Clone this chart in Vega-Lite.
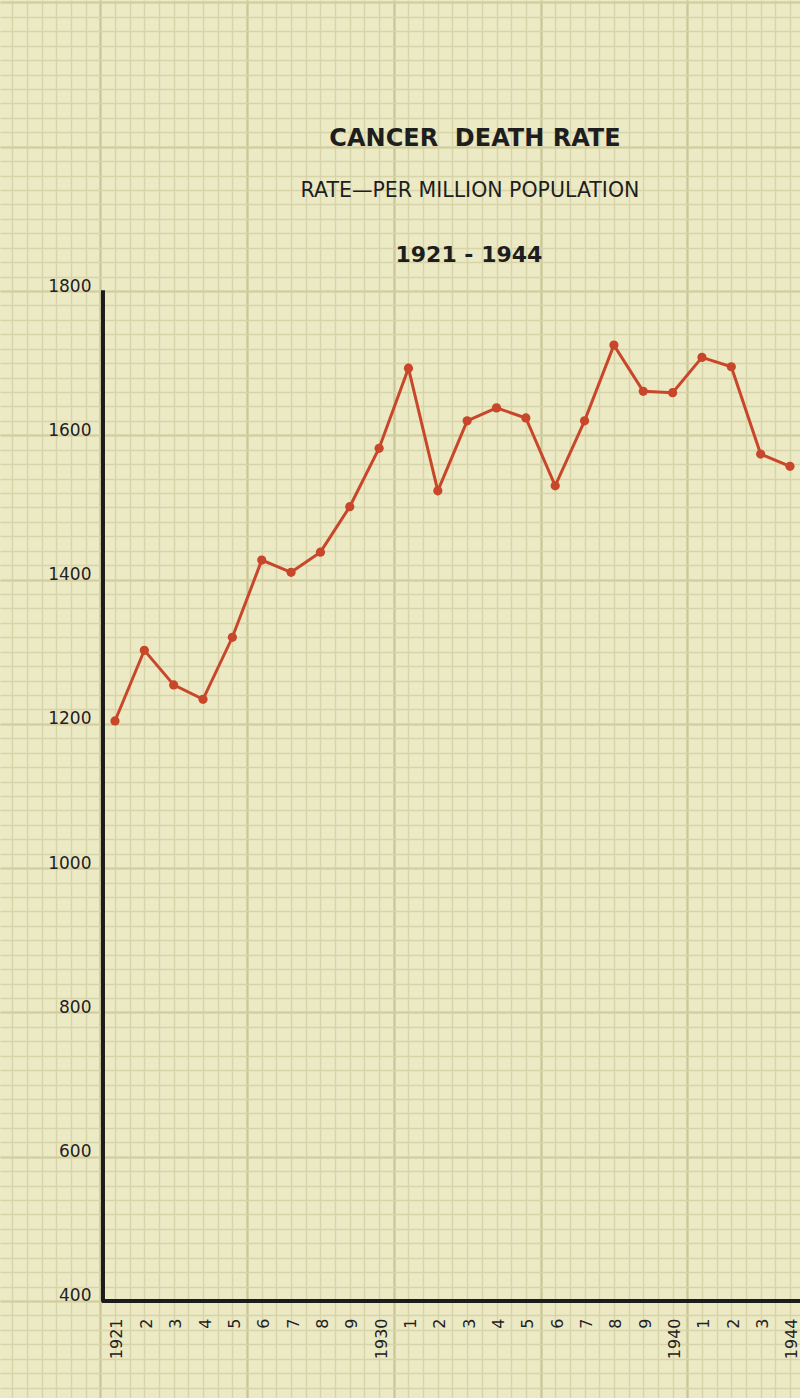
{
  "$schema": "https://vega.github.io/schema/vega-lite/v6.json",
  "width": 800,
  "height": 1398,
  "autosize": {"type": "none"},
  "padding": 0,
  "background": "#ece9c5",
  "config": {"view": {"stroke": null}, "axis": {"minExtent": 0}},
  "datasets": {
    "rates": [
      {"year": 1921, "rate": 1204},
      {"year": 1922, "rate": 1302},
      {"year": 1923, "rate": 1254},
      {"year": 1924, "rate": 1234},
      {"year": 1925, "rate": 1320},
      {"year": 1926, "rate": 1427},
      {"year": 1927, "rate": 1410},
      {"year": 1928, "rate": 1438},
      {"year": 1929, "rate": 1501},
      {"year": 1930, "rate": 1582},
      {"year": 1931, "rate": 1693},
      {"year": 1932, "rate": 1523},
      {"year": 1933, "rate": 1620},
      {"year": 1934, "rate": 1638},
      {"year": 1935, "rate": 1624},
      {"year": 1936, "rate": 1530},
      {"year": 1937, "rate": 1620},
      {"year": 1938, "rate": 1725},
      {"year": 1939, "rate": 1661},
      {"year": 1940, "rate": 1659},
      {"year": 1941, "rate": 1708},
      {"year": 1942, "rate": 1695},
      {"year": 1943, "rate": 1574},
      {"year": 1944, "rate": 1557}
    ]
  },
  "resolve": {"axis": {"x": "independent", "y": "independent"}},
  "layer": [
    {
      "data": {"name": "rates"},
      "mark": {"type": "point", "opacity": 0},
      "encoding": {
        "x": {"field": "year", "type": "quantitative",
              "scale": {"domain": [1917.082, 1944.341], "nice": false, "zero": false},
              "axis": {"orient": "bottom", "grid": true, "tickCount": 55, "labels": false, "ticks": false, "domain": false, "title": null, "gridColor": "#d8d4a9", "gridWidth": 1.4, "gridOpacity": 1}},
        "y": {"field": "rate", "type": "quantitative",
              "scale": {"domain": [265.5, 2203.4], "nice": false, "zero": false},
              "axis": {"orient": "left", "grid": true, "tickCount": 100, "labels": false, "ticks": false, "domain": false, "title": null, "gridColor": "#d8d4a9", "gridWidth": 1.4, "gridOpacity": 1}}
      }
    },
    {
      "data": {"name": "rates"},
      "mark": {"type": "point", "opacity": 0},
      "encoding": {
        "x": {"field": "year", "type": "quantitative",
              "axis": {"orient": "bottom", "grid": true, "values": [1920.5, 1925.5, 1930.5, 1935.5, 1940.5], "labels": false, "ticks": false, "domain": false, "title": null, "gridColor": "#cac697", "gridWidth": 2.2, "gridOpacity": 1}},
        "y": {"field": "rate", "type": "quantitative",
              "axis": {"orient": "left", "grid": true, "tickCount": 10, "labels": false, "ticks": false, "domain": false, "title": null, "gridColor": "#d1cd9f", "gridWidth": 1.8, "gridOpacity": 1}}
      }
    },
    {
      "data": {"name": "rates"},
      "mark": {"type": "line", "color": "#c8472b", "strokeWidth": 3},
      "encoding": {
        "x": {"field": "year", "type": "quantitative",
              "axis": {"orient": "bottom", "offset": -97, "grid": false, "values": [1921,1922,1923,1924,1925,1926,1927,1928,1929,1930,1931,1932,1933,1934,1935,1936,1937,1938,1939,1940,1941,1942,1943,1944],
                       "labelExpr": "indexof([1921,1930,1940,1944], datum.value) >= 0 ? toString(datum.value) : toString(datum.value % 10)",
                       "labelAngle": 270, "labelPadding": 17, "labelOffset": 2, "labelFont": "DejaVu Sans", "labelFontSize": 16, "labelColor": "#222222", "labelBound": false, "ticks": false, "domain": false, "title": null}},
        "y": {"field": "rate", "type": "quantitative",
              "axis": {"orient": "left", "offset": -103, "grid": false, "values": [400, 600, 800, 1000, 1200, 1400, 1600, 1800], "format": "d",
                       "labelAlign": "right", "labelBaseline": "alphabetic", "labelPadding": 12, "labelFont": "DejaVu Sans", "labelFontSize": 17, "labelColor": "#222222", "ticks": false, "domain": false, "title": null}}
      }
    },
    {
      "data": {"name": "rates"},
      "mark": {"type": "point", "filled": true, "color": "#c8472b", "size": 85, "opacity": 1},
      "encoding": {
        "x": {"field": "year", "type": "quantitative", "axis": null},
        "y": {"field": "rate", "type": "quantitative", "axis": null}
      }
    },
    {
      "data": {"values": [{"k": 1}]},
      "mark": {"type": "rule", "color": "#1c1c1c", "strokeWidth": 4},
      "encoding": {
        "x": {"datum": 1920.591, "type": "quantitative", "axis": null},
        "y": {"datum": 399, "type": "quantitative", "axis": null},
        "y2": {"datum": 1801}
      }
    },
    {
      "data": {"values": [{"k": 1}]},
      "mark": {"type": "rule", "color": "#1c1c1c", "strokeWidth": 4},
      "encoding": {
        "x": {"datum": 1920.55, "type": "quantitative", "axis": null},
        "x2": {"datum": 1944.341},
        "y": {"datum": 400, "type": "quantitative", "axis": null}
      }
    },
    {
      "data": {"values": [{"label": "CANCER\u00a0\u00a0DEATH RATE"}]},
      "mark": {"type": "text", "font": "DejaVu Sans", "fontSize": 24, "fontWeight": "bold", "color": "#1e1e1e", "align": "center", "baseline": "middle"},
      "encoding": {
        "text": {"field": "label"},
        "x": {"datum": 1933.267, "type": "quantitative", "axis": null},
        "y": {"datum": 2010.7, "type": "quantitative", "axis": null}
      }
    },
    {
      "data": {"values": [{"label": "RATE—PER MILLION POPULATION"}]},
      "mark": {"type": "text", "font": "DejaVu Sans", "fontSize": 20.5, "fontWeight": "normal", "color": "#1e1e1e", "align": "center", "baseline": "middle"},
      "encoding": {
        "text": {"field": "label"},
        "x": {"datum": 1933.096, "type": "quantitative", "axis": null},
        "y": {"datum": 1938.7, "type": "quantitative", "axis": null}
      }
    },
    {
      "data": {"values": [{"label": "1921 - 1944"}]},
      "mark": {"type": "text", "font": "DejaVu Sans", "fontSize": 22, "fontWeight": "bold", "color": "#1e1e1e", "align": "center", "baseline": "middle"},
      "encoding": {
        "text": {"field": "label"},
        "x": {"datum": 1933.06, "type": "quantitative", "axis": null},
        "y": {"datum": 1850.0, "type": "quantitative", "axis": null}
      }
    }
  ]
}
